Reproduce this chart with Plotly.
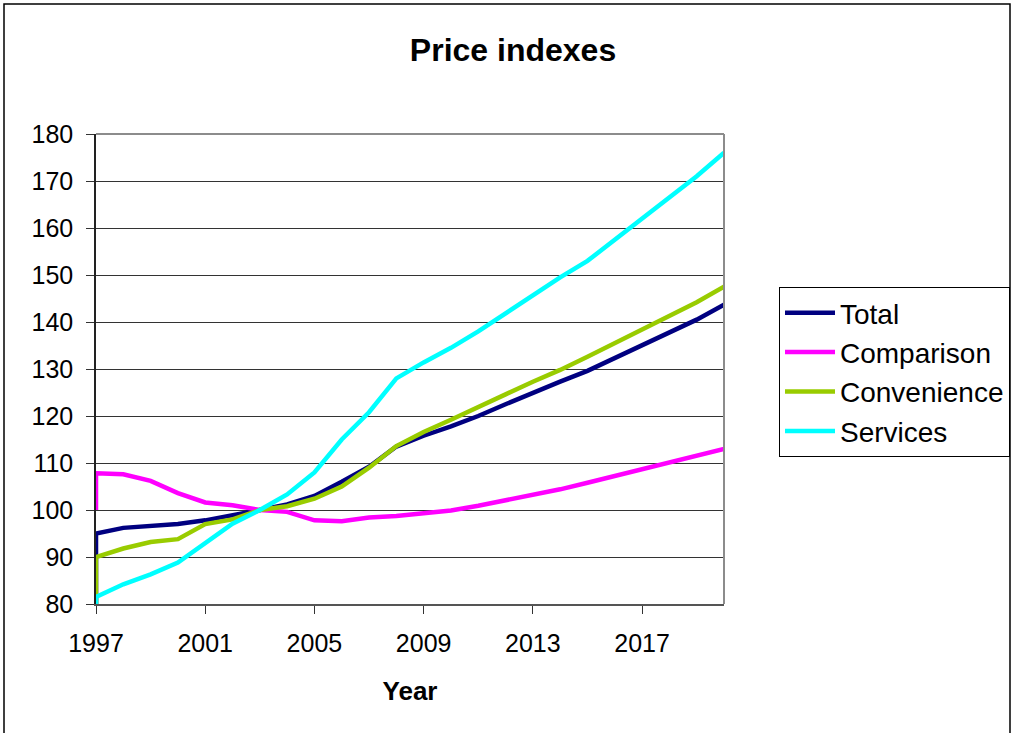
import plotly.graph_objects as go

# Data (leading duplicate 1997 point reproduces the vertical start segments)
years = [1997, 1997, 1998, 1999, 2000, 2001, 2002, 2003, 2004, 2005, 2006, 2007, 2008,
         2009, 2010, 2011, 2012, 2013, 2014, 2015, 2016, 2017, 2018, 2019, 2020]
total = [0, 95.0, 96.2, 96.6, 97.0, 97.8, 98.8, 100.0, 101.2, 103.0, 106.0, 109.2, 113.5,
         115.8, 117.8, 120.0, 122.5, 125.0, 127.3, 129.6, 132.3, 135.0, 137.7, 140.5, 143.7]
comparison = [100, 107.8, 107.6, 106.2, 103.6, 101.6, 101.0, 100.0, 99.6, 97.8, 97.6, 98.4, 98.7,
              99.2, 99.9, 100.9, 102.0, 103.2, 104.4, 105.8, 107.2, 108.6, 110.0, 111.5, 113.0]
convenience = [0, 90.0, 91.8, 93.2, 93.8, 97.0, 98.0, 100.0, 100.8, 102.4, 105.0, 109.0, 113.6,
               116.6, 119.2, 121.8, 124.6, 127.3, 129.8, 132.6, 135.5, 138.3, 141.1, 144.2, 147.5]
services = [0, 81.5, 84.2, 86.3, 88.8, 93.0, 97.1, 100.0, 103.3, 108.0, 115.0, 120.8, 128.0,
            131.4, 134.5, 138.0, 141.8, 145.7, 149.5, 153.0, 157.5, 162.0, 166.3, 171.0, 176.0]

series_names = ["Total", "Comparison", "Convenience", "Services"]
series_values = [total, comparison, convenience, services]
colors = ["#000080", "#FF00FF", "#99CC00", "#00FFFF"]

FONT = "Liberation Sans, Arial, sans-serif"

fig = go.Figure()
for name, vals, col in zip(series_names, series_values, colors):
    fig.add_trace(go.Scatter(x=years, y=vals, mode="lines", name=name,
                             line=dict(color=col, width=4.5)))

W, H = 1013, 733
L, R, T, B = 96, 724, 134, 604

fig.update_layout(
    width=W, height=H, autosize=False,
    margin=dict(l=L, r=W - R, t=T, b=H - B, pad=0, autoexpand=False),
    paper_bgcolor="white", plot_bgcolor="white",
    font=dict(family=FONT, color="black", size=24),
    title=dict(text="<b>Price indexes</b>", x=(513 - L) / (R - L), xref="paper",
               xanchor="center", y=1 - 50 / H, yanchor="middle", yref="container",
               font=dict(size=32, family=FONT, color="black")),
    xaxis=dict(range=[1997, 2020], tick0=1997, dtick=4, showgrid=False,
               showline=True, linecolor="#555555", linewidth=2,
               ticks="outside", ticklen=8, tickcolor="#333333", tickwidth=1,
               tickfont=dict(size=25), zeroline=False, ticklabelstandoff=8,
               title=dict(text="<b>Year</b>", font=dict(size=26), standoff=26)),
    yaxis=dict(range=[80, 180], dtick=10, showgrid=True, gridcolor="#333333", gridwidth=1,
               showline=True, linecolor="#222222", linewidth=1.5,
               ticks="outside", ticklen=8, tickcolor="#333333", tickwidth=1,
               tickfont=dict(size=25), zeroline=False, ticklabelstandoff=8),
    legend=dict(x=779 / W, y=1 - 287 / H, xref="container", yref="container",
                xanchor="left", yanchor="top",
                bordercolor="black", borderwidth=1, bgcolor="white",
                font=dict(size=28, family=FONT), tracegroupgap=0, itemwidth=50),
    showlegend=True,
)

# Plot-area top and right borders (grey) and outer chart border
fig.add_shape(type="line", xref="paper", yref="paper", x0=0, x1=1, y0=1, y1=1,
              line=dict(color="#8c8c8c", width=2))
fig.add_shape(type="line", xref="paper", yref="paper", x0=1, x1=1, y0=0, y1=1,
              line=dict(color="#8c8c8c", width=2))
fig.add_shape(type="rect", xref="paper", yref="paper",
              x0=(4 - L) / (R - L), x1=(1010 - L) / (R - L),
              y0=-0.6, y1=(B - 4) / (B - T),
              line=dict(color="black", width=1.5), fillcolor="rgba(0,0,0,0)", layer="below")

post = ("document.documentElement.style.margin='0px';"
        "document.body.style.margin='0px';document.body.style.padding='0px';"
        "document.body.style.overflow='hidden';"
        "Plotly.relayout(document.getElementById('{plot_id}'), {width: 1013, height: 733});")

fig.write_html("out.html", config={"responsive": False, "displayModeBar": False},
               post_script=post)
